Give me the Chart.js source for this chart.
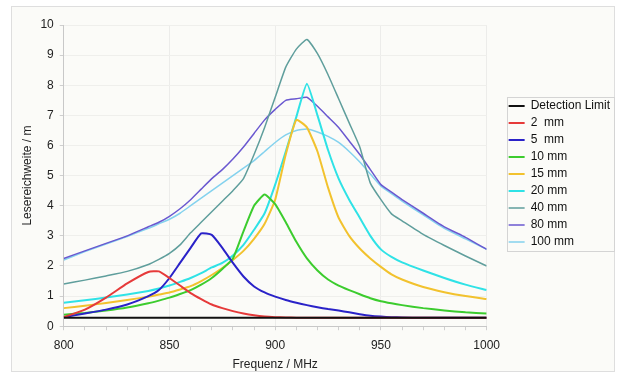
<!DOCTYPE html>
<html>
<head>
<meta charset="utf-8">
<script src="https://cdn.jsdelivr.net/npm/chart.js@4/dist/chart.umd.min.js"></script>
<style>
  html, body { margin: 0; padding: 0; background: #ffffff; }
  #wrap { width: 617px; height: 374px; }
</style>
</head>
<body>
<div id="wrap"><canvas id="reach" width="617" height="374"></canvas></div>
<script>
// frequencies in MHz (common x values for all series)
const freq = [800, 810, 820, 830, 840, 845, 850, 855, 860, 865, 870, 875, 880, 885, 890, 895,
  900, 905, 910, 915, 920, 925, 930, 935, 940, 945, 950, 955, 960, 970, 980, 990, 1000];

// read range in m
const detectionLimit = freq.map(() => 0.28);
const mm2 = [0.3, 0.55, 0.95, 1.42, 1.8, 1.82, 1.6, 1.35, 1.1, 0.9, 0.72, 0.6, 0.5, 0.42, 0.36, 0.32,
  0.3, 0.29, 0.28, 0.28, 0.28, 0.28, 0.28, 0.28, 0.28, 0.28, 0.28, 0.28, 0.28, 0.28, 0.28, 0.28, 0.28];
const mm5 = [0.3, 0.42, 0.55, 0.72, 1.0, 1.2, 1.6, 2.1, 2.6, 3.08, 3.03, 2.6, 2.1, 1.65, 1.32, 1.12,
  0.98, 0.87, 0.78, 0.7, 0.63, 0.57, 0.52, 0.46, 0.4, 0.35, 0.32, 0.3, 0.29, 0.28, 0.28, 0.28, 0.28];
const mm10 = [0.38, 0.44, 0.52, 0.62, 0.76, 0.85, 0.95, 1.07, 1.2, 1.38, 1.6, 1.9, 2.25, 3.15, 4.0, 4.37,
  4.05, 3.45, 2.8, 2.25, 1.85, 1.55, 1.35, 1.2, 1.06, 0.93, 0.83, 0.76, 0.7, 0.6, 0.52, 0.46, 0.42];
const mm15 = [0.6, 0.68, 0.77, 0.87, 0.98, 1.05, 1.12, 1.22, 1.33, 1.5, 1.7, 1.93, 2.2, 2.5, 2.9, 3.4,
  4.2, 5.7, 6.85, 6.6, 5.8, 4.6, 3.6, 3.0, 2.58, 2.25, 1.97, 1.72, 1.55, 1.3, 1.13, 1.0, 0.9];
const mm20 = [0.78, 0.86, 0.95, 1.05, 1.17, 1.25, 1.35, 1.47, 1.6, 1.76, 1.95, 2.1, 2.35, 2.7, 3.2, 3.75,
  4.7, 5.8, 6.95, 8.05, 7.0, 5.85, 4.9, 4.2, 3.6, 3.0, 2.55, 2.3, 2.12, 1.85, 1.6, 1.38, 1.2];
const mm40 = [1.4, 1.53, 1.67, 1.82, 2.05, 2.22, 2.42, 2.7, 3.1, 3.45, 3.8, 4.15, 4.5, 4.9, 5.7, 6.6,
  7.6, 8.6, 9.2, 9.52, 9.05, 8.35, 7.55, 6.75, 5.95, 4.75, 4.2, 3.73, 3.5, 3.05, 2.68, 2.33, 2.0];
const mm80 = [2.25, 2.5, 2.75, 3.0, 3.3, 3.45, 3.65, 3.9, 4.2, 4.55, 4.9, 5.2, 5.55, 5.95, 6.4, 6.85,
  7.2, 7.5, 7.55, 7.6, 7.3, 6.95, 6.6, 6.15, 5.7, 5.2, 4.7, 4.45, 4.2, 3.75, 3.3, 2.95, 2.55];
const mm100 = [2.2, 2.48, 2.73, 2.98, 3.25, 3.4, 3.55, 3.75, 4.0, 4.25, 4.5, 4.75, 5.0, 5.25, 5.5, 5.8,
  6.1, 6.35, 6.5, 6.55, 6.45, 6.3, 6.1, 5.8, 5.45, 5.05, 4.65, 4.4, 4.15, 3.7, 3.25, 2.9, 2.55];

const seriesNames = ["Detection Limit", "2  mm", "5  mm", "10 mm", "15 mm", "20 mm", "40 mm", "80 mm", "100 mm"];
const seriesValues = [detectionLimit, mm2, mm5, mm10, mm15, mm20, mm40, mm80, mm100];
const seriesColors = ["#111111", "#e63a3a", "#2a22c8", "#3ccc2e", "#f2c22e", "#2fe2e6", "#5f9e9c", "#6a58d0", "#84d2ee"];
const seriesWidths = [2, 2, 2, 2, 2, 2, 1.5, 1.5, 1.5];

const datasets = seriesNames.map((name, i) => ({
  label: name,
  data: freq.map((f, j) => ({ x: f, y: seriesValues[i][j] })),
  borderColor: seriesColors[i],
  backgroundColor: seriesColors[i],
  borderWidth: seriesWidths[i],
  pointRadius: 0,
  pointStyle: "line",
  tension: 0.15,
  fill: false,
}));

// legend sits a bit away from the plot, top of first entry at y=100
const LEGEND_EXTRA = 11;
const LEGEND_SHIFT_X = 17;
const LEGEND_TOP = 100;

const legendPlace = {
  id: "legendPlace",
  beforeLayout(chart) {
    const lg = chart.legend;
    if (!lg || lg._placed) return;
    lg._placed = true;
    const fit = lg.fit;
    lg.fit = function () {
      fit.call(this);
      this.width += LEGEND_EXTRA;
    };
    const draw = lg.draw;
    lg.draw = function () {
      const boxes = this.legendHitBoxes || [];
      const dy = boxes.length ? LEGEND_TOP - boxes[0].top : 0;
      const c = this.ctx;
      const l = boxes.length ? Math.min(...boxes.map(b => b.left)) + LEGEND_SHIFT_X - 2 : 0;
      const t = LEGEND_TOP - 3;
      const bt = boxes.length ? Math.max(...boxes.map(b => b.top + b.height)) + dy + 3 : 0;
      c.save();
      c.strokeStyle = "#d4d4d4";
      c.lineWidth = 1;
      c.strokeRect(Math.round(l) + 0.5, t + 0.5, 614 - Math.round(l), Math.round(bt - t));
      c.translate(LEGEND_SHIFT_X, dy);
      draw.call(this);
      c.restore();
    };
  }
};

// page frame
const framePlugin = {
  id: "frame",
  beforeDraw(chart) {
    const c = chart.ctx;
    c.save();
    c.fillStyle = "#fbfbf8";
    c.fillRect(11, 6, 603, 365);
    c.strokeStyle = "#dedede";
    c.lineWidth = 1;
    c.strokeRect(11.5, 6.5, 603, 365);
    c.restore();
  }
};

const font = { family: "'Liberation Sans', Arial, sans-serif", size: 12 };

new Chart(document.getElementById("reach").getContext("2d"), {
  type: "line",
  data: { datasets: datasets },
  plugins: [framePlugin, legendPlace],
  options: {
    responsive: false,
    animation: false,
    layout: { padding: { left: 17, right: 3, top: 25, bottom: 2 } },
    plugins: {
      legend: {
        position: "right",
        labels: {
          usePointStyle: true,
          pointStyle: "line",
          pointStyleWidth: 16,
          boxHeight: 12,
          padding: 5,
          color: "#111",
          font: font,
        },
      },
      tooltip: { enabled: false },
    },
    scales: {
      x: {
        type: "linear",
        min: 800,
        max: 1000,
        ticks: {
          stepSize: 10,
          autoSkip: false,
          maxRotation: 0,
          color: "#222",
          font: font,
          padding: 8,
          callback: v => (v % 50 === 0 ? String(v) : ""),
        },
        grid: {
          color: c => (c.tick && c.tick.value % 50 === 0 ? "#ececea" : "rgba(0,0,0,0)"),
          tickColor: "#cfcfcf",
          tickLength: 4,
        },
        border: { color: "#c8c8c8" },
        title: { display: true, text: "Frequenz / MHz", color: "#222", font: font, padding: { top: -3, bottom: 0 } },
      },
      y: {
        min: 0,
        max: 10,
        ticks: { stepSize: 1, color: "#222", font: font, padding: 6 },
        grid: { color: "#efefec", tickColor: "#cfcfcf", tickLength: 4 },
        border: { color: "#c8c8c8" },
        title: { display: true, text: "Lesereichweite / m", color: "#222", font: font, padding: { top: 3, bottom: 0 } },
      },
    },
  },
});
</script>
</body>
</html>
